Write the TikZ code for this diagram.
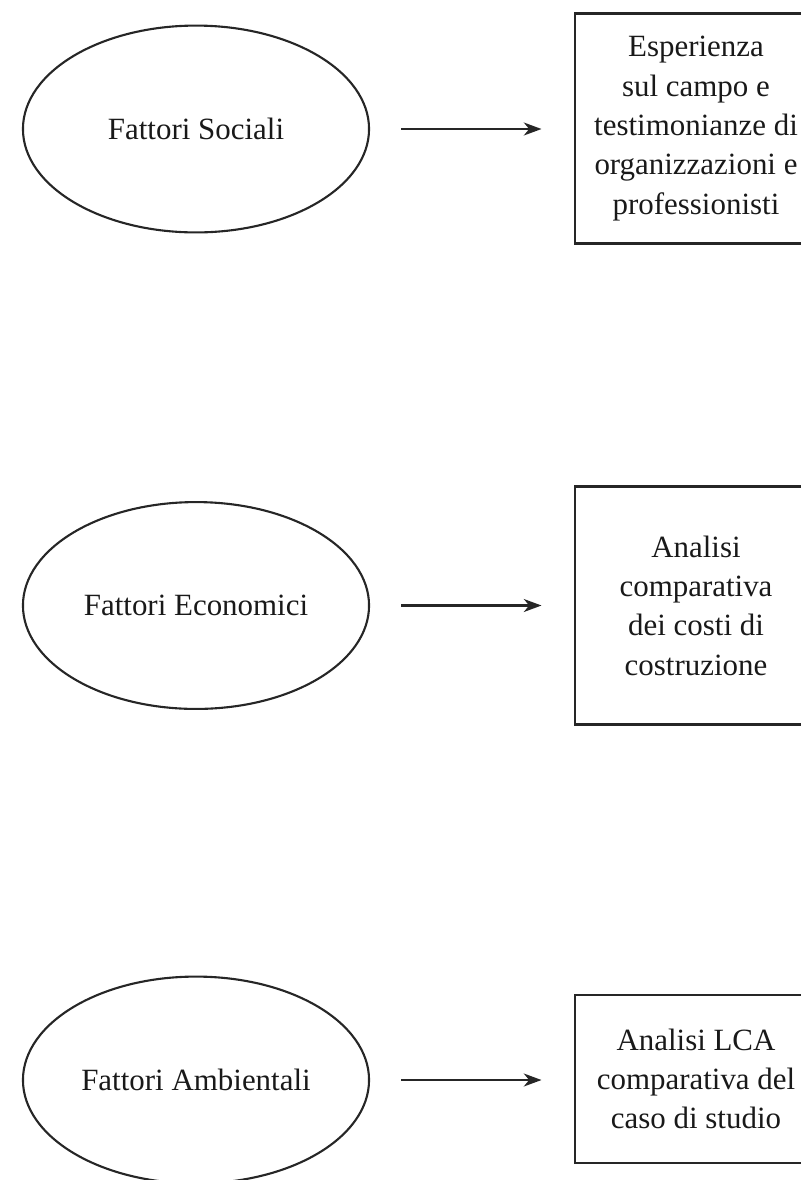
\documentclass[tikz,border=0pt]{standalone}
\usepackage{fontspec}
\setmainfont{Liberation Serif}
\usetikzlibrary{shapes.geometric,arrows.meta}

\begin{document}
\begin{tikzpicture}[
    x=0.025cm, y=-0.025cm,
    font=\fontsize{22}{28}\selectfont,
    factor/.style={
        ellipse,
        draw=black!85,
        line width=1.5pt,
        minimum width=8.65cm,
        minimum height=5.17cm,
        inner sep=0pt,
        align=center,
        text=black!90
    },
    method/.style={
        draw=black!85,
        line width=2pt,
        minimum width=6.05cm,
        inner sep=0pt,
        align=center,
        text=black!90
    },
    arr/.style={-{Stealth[length=4.4mm,width=3.2mm,inset=1.3mm]}, line width=2.1pt, black!85,
        shorten <=0.78cm, shorten >=0.8cm}
]
\useasboundingbox (0,0) rectangle (801,1180);
\clip (0,0) rectangle (801,1180);

% social
\node[factor] (social) at (196,129) {Fattori Sociali};
\node[method, minimum height=5.75cm] (field) at (696,128.5)
{Esperienza\\
sul campo e\\
testimonianze di\\
organizzazioni e\\
professionisti};

% economic
\node[factor] (economic) at (196,605.5) {Fattori Economici};
\node[method, minimum height=5.95cm] (costs) at (696,605.7)
{Analisi\\
comparativa\\
dei costi di\\
costruzione};

% environmental
\node[factor] (environ) at (196,1080) {Fattori Ambientali};
\node[method, minimum height=4.2cm] (lca) at (696,1079)
{Analisi LCA\\
comparativa del\\
caso di studio};

\draw[arr] (social.east) -- (social.east -| field.west);
\draw[arr] (economic.east) -- (economic.east -| costs.west);
\draw[arr] (environ.east) -- (environ.east -| lca.west);

\end{tikzpicture}
\end{document}
